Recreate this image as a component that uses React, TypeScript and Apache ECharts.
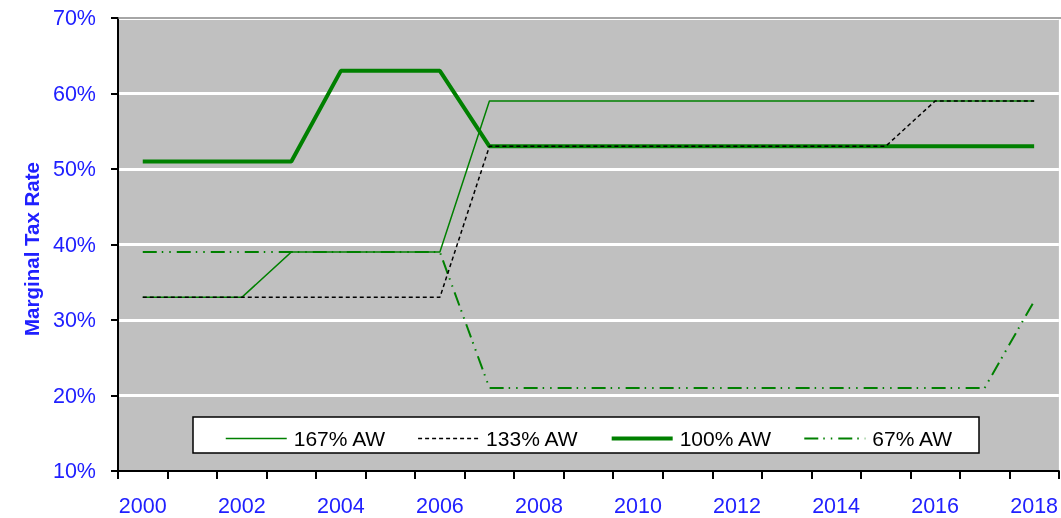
import React, { useEffect, useRef } from "react";
import * as echarts from "echarts";

const years = ["2000","2001","2002","2003","2004","2005","2006","2007","2008","2009","2010","2011","2012","2013","2014","2015","2016","2017","2018"];
const aw167 = [33,33,33,39,39,39,39,59,59,59,59,59,59,59,59,59,59,59,59];
const aw133 = [33,33,33,33,33,33,33,53,53,53,53,53,53,53,53,53,59,59,59];
const aw100 = [51,51,51,51,63,63,63,53,53,53,53,53,53,53,53,53,53,53,53];
const aw67 = [39,39,39,39,39,39,39,21,21,21,21,21,21,21,21,21,21,21,32.5];
const yTicks = { min: 10, max: 70, step: 10 };

const FONT = "'Liberation Sans', Arial, sans-serif";
const BLUE = "#2020ff";
const GREEN = "#008000";

const s167 = { color: GREEN, width: 1.5, type: "solid" as any };
const s133 = { color: "#000", width: 1.5, type: [4, 3] as any };
const s100 = { color: GREEN, width: 4, type: "solid" as any };
const s67 = { color: GREEN, width: 2, type: [14, 5, 1.5, 6, 1.5, 6] as any };

export default function App() {
  const ref = useRef<HTMLDivElement>(null);
  useEffect(() => {
    const chart = echarts.init(ref.current!, null, { renderer: "svg" });
    chart.setOption({
      animation: false,
      textStyle: { fontFamily: FONT },
      grid: { left: 118, top: 18, right: 0, bottom: 47, show: true, backgroundColor: "#c0c0c0", borderWidth: 0 },
      xAxis: {
        type: "category",
        data: years,
        boundaryGap: true,
        axisLine: { lineStyle: { color: "#000", width: 2 } },
        axisTick: { show: true, interval: 0, length: 8, lineStyle: { color: "#000", width: 2 } },
        axisLabel: { interval: 1, color: BLUE, fontSize: 21.5, margin: 24, fontFamily: FONT },
        splitLine: { show: false },
      },
      yAxis: {
        type: "value",
        min: yTicks.min,
        max: yTicks.max,
        interval: yTicks.step,
        axisLine: { show: true, lineStyle: { color: "#000", width: 2 } },
        axisTick: { show: true, length: 7, lineStyle: { color: "#000", width: 2 } },
        axisLabel: { color: BLUE, fontSize: 21.5, margin: 22, formatter: "{value}%", fontFamily: FONT },
        splitLine: { show: true, lineStyle: { color: "#ffffff", width: 3 } },
      },
      legend: {
        left: 225,
        top: 428,
        padding: 0,
        z: 20,
        itemWidth: 61,
        itemHeight: 12,
        itemGap: 31,
        itemStyle: { opacity: 0 },
        textStyle: { fontSize: 21, color: "#000", fontFamily: FONT, padding: [0, 0, 0, 2] },
        data: [
          { name: "167% AW", lineStyle: s167 },
          { name: "133% AW", lineStyle: s133 },
          { name: "100% AW", lineStyle: s100 },
          { name: "67% AW", lineStyle: s67 },
        ],
      },
      graphic: [
        { type: "rect", shape: { x: 193, y: 417, width: 786, height: 36 }, style: { fill: "#fff", stroke: "#000", lineWidth: 1.5 }, z: 10 },
        { type: "line", shape: { x1: 118, y1: 18, x2: 1061, y2: 18 }, style: { stroke: "#888", lineWidth: 1.5 }, z: 10 },
        { type: "text", x: 31, y: 249, rotation: Math.PI / 2, style: { text: "Marginal Tax Rate", fill: BLUE, font: `bold 20.5px ${FONT}`, align: "center", verticalAlign: "middle" } },
      ],
      series: [
        { name: "167% AW", type: "line", data: aw167, symbol: "none", lineStyle: s167, itemStyle: { color: GREEN }, z: 3 },
        { name: "133% AW", type: "line", data: aw133, symbol: "none", lineStyle: s133, itemStyle: { color: "#000" }, z: 4 },
        { name: "100% AW", type: "line", data: aw100, symbol: "none", lineStyle: s100, itemStyle: { color: GREEN }, z: 2 },
        { name: "67% AW", type: "line", data: aw67, symbol: "none", lineStyle: s67, itemStyle: { color: GREEN }, z: 2 },
      ],
    });
    return () => chart.dispose();
  }, []);
  return <div ref={ref} style={{ position: "fixed", left: 0, top: 0, width: 1061, height: 518 }} />;
}
